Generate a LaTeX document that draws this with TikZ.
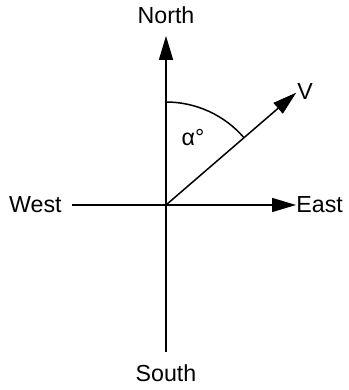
\documentclass[tikz,border=0pt]{standalone}
\usepackage{fontspec}
\setmainfont{Liberation Sans}
\usetikzlibrary{arrows.meta}
\tikzset{
  every picture/.style={line join=round, >={Triangle[length=12pt,width=7pt]}},
  lbl/.style={font=\fontsize{11.6pt}{14pt}\selectfont, inner sep=0pt},
  axis/.style={line width=0.75pt},
}

\begin{document}
\begin{tikzpicture}[x=0.5pt,y=0.5pt]
\useasboundingbox (0,0) rectangle (348,390);
\coordinate (O) at (166,185);
\node[lbl] (north) at (166,375) {North};
\node[lbl] (south) at (166,17) {South};
\node[lbl,anchor=east] (west) at (62,185) {West};
\node[lbl,anchor=west] (east) at (296,185) {East};
\node[lbl,anchor=west] (v) at (297,298) {V};
\node[lbl] (alpha) at (193,252) {α°};
\draw[axis,->,shorten <=6pt,shorten >=6pt](south.north)--(north.south);
\draw[axis,->,shorten <=5pt](west.east)--(east.west);
\draw[axis,->,shorten >=0.5pt](O)--(v.west);
\draw[axis](O)++(90:103) arc[start angle=90,end angle=40.8,radius=103];
\end{tikzpicture}
\end{document}
